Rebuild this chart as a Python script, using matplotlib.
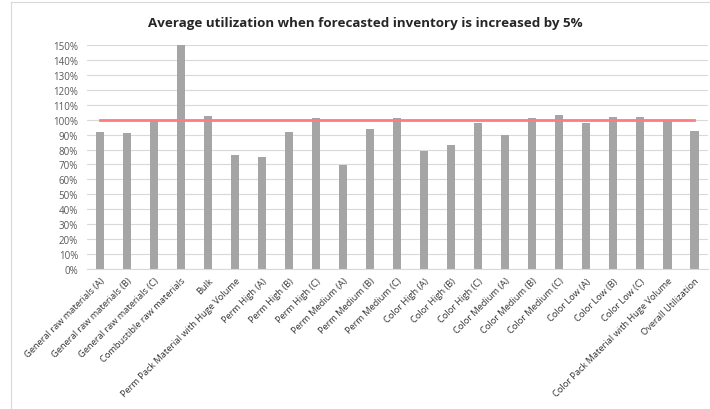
import matplotlib
matplotlib.use("Agg")
import matplotlib.pyplot as plt
from matplotlib.lines import Line2D
from matplotlib.ticker import MultipleLocator, FuncFormatter

categories = [
    "General raw materials (A)", "General raw materials (B)", "General raw materials (C)",
    "Combustible raw materials", "Bulk", "Perm Pack Material with Huge Volume",
    "Perm High (A)", "Perm High (B)", "Perm High (C)",
    "Perm Medium (A)", "Perm Medium (B)", "Perm Medium (C)",
    "Color High (A)", "Color High (B)", "Color High (C)",
    "Color Medium (A)", "Color Medium (B)", "Color Medium (C)",
    "Color Low (A)", "Color Low (B)", "Color Low (C)",
    "Color Pack Material with Huge Volume", "Overall Utilization",
]
utilization = [
    0.92, 0.91, 0.995, 1.50, 1.023, 0.766, 0.748, 0.915, 1.011,
    0.694, 0.938, 1.013, 0.788, 0.830, 0.980, 0.897, 1.009, 1.031,
    0.980, 1.020, 1.020, 0.993, 0.924,
]
target = 1.0

plt.rcParams['font.family'] = ['Open Sans', 'DejaVu Sans']

fig = plt.figure(figsize=(7.1, 4.1), dpi=100)
W, H = 710, 410
ax = fig.add_axes([86.5 / W, 140 / H, (708 - 86.5) / W, (270 - 46) / H])

x = list(range(len(categories)))
ax.bar(x, utilization, width=0.3, color='#A5A5A5', zorder=2)
ax.plot([x[0], x[-1]], [target, target], color='#FF7C80', linewidth=2, zorder=3)

ax.set_xlim(-0.5, len(categories) - 0.5)
ax.set_ylim(0, 1.5)
ax.yaxis.set_major_locator(MultipleLocator(0.1))
ax.yaxis.set_major_formatter(FuncFormatter(lambda v, p: f"{v * 100:.0f}%"))
ax.grid(axis='y', color='#D9D9D9', linewidth=0.8, zorder=0)
ax.set_axisbelow(True)

for s in ['top', 'right', 'left']:
    ax.spines[s].set_visible(False)
ax.spines['bottom'].set_color('#D9D9D9')
ax.spines['bottom'].set_linewidth(0.8)

ax.tick_params(axis='y', length=0, pad=6, labelsize=7, labelcolor='#595959')
ax.tick_params(axis='x', length=0, pad=5, labelsize=6.7, labelcolor='#333333')
ax.set_xticks(x)
ax.set_xticklabels(categories, rotation=45, ha='right', va='top', rotation_mode='anchor')

fig.text(365 / W, 1 - 23 / H, "Average utilization when forecasted inventory is increased by 5%",
         ha='center', va='center', fontsize=9.6, fontweight='bold', color='#262626')

# chart frame edges
fig.add_artist(Line2D([11 / W, 11 / W], [0, 1 - 3 / H], color='#D9D9D9', linewidth=0.8))
fig.add_artist(Line2D([11 / W, 1], [1 - 3 / H, 1 - 3 / H], color='#D9D9D9', linewidth=0.8))

fig.savefig("out.png", dpi=100, facecolor='white')
